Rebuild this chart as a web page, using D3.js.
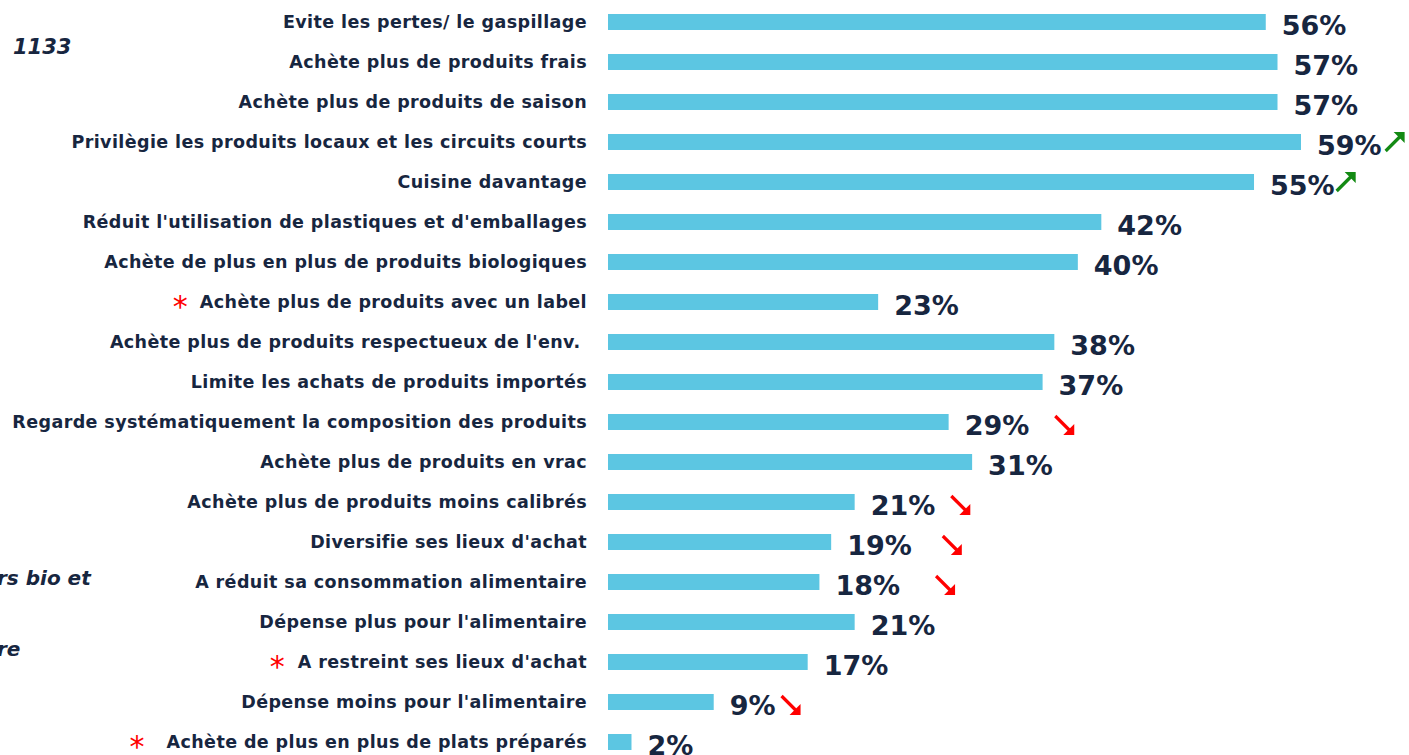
<!DOCTYPE html>
<html>
<head>
<meta charset="utf-8">
<script src="https://cdn.jsdelivr.net/npm/d3@7"></script>
<style>
  body { margin: 0; background: #fff; overflow: hidden; }
  text { font-family: "DejaVu Sans", sans-serif; }
</style>
</head>
<body>
<script>
// data
var labels = [
    "Evite les pertes/ le gaspillage",
    "Achète plus de produits frais",
    "Achète plus de produits de saison",
    "Privilègie les produits locaux et les circuits courts",
    "Cuisine davantage",
    "Réduit l'utilisation de plastiques et d'emballages",
    "Achète de plus en plus de produits biologiques",
    "Achète plus de produits avec un label",
    "Achète plus de produits respectueux de l'env.\u00a0",
    "Limite les achats de produits importés",
    "Regarde systématiquement la composition des produits",
    "Achète plus de produits en vrac",
    "Achète plus de produits moins calibrés",
    "Diversifie ses lieux d'achat",
    "A réduit sa consommation alimentaire",
    "Dépense plus pour l'alimentaire",
    "A restreint ses lieux d'achat",
    "Dépense moins pour l'alimentaire",
    "Achète de plus en plus de plats préparés"
];
var values = [56, 57, 57, 59, 55, 42, 40, 23, 38, 37, 29, 31, 21, 19, 18, 21, 17, 9, 2];
// 1 = hausse, -1 = baisse, 0 = rien
var trends = [0, 0, 0, 1, 1, 0, 0, 0, 0, 0, -1, 0, -1, -1, -1, 0, 0, -1, 0];
var starred = [0, 0, 0, 0, 0, 0, 0, 1, 0, 0, 0, 0, 0, 0, 0, 0, 1, 0, 1];

var width = 1409, height = 755;
var svg = d3.select("body").append("svg")
    .attr("width", width)
    .attr("height", height);

var x = d3.scaleLinear().domain([0, 59]).range([608, 1301]);
var y = d3.scaleBand().domain(d3.range(labels.length))
    .range([2, 762]).paddingInner(0.6).paddingOuter(0.3);

var navy = "#172640";

// fragments of the clipped left panel
var left = svg.append("g").attr("fill", navy)
    .style("font-style", "italic").style("font-weight", "bold");
left.append("text").attr("x", 13).attr("y", 54).style("font-size", "21px").text("1133");
left.append("text").attr("x", -3).attr("y", 585).style("font-size", "20px").text("rs bio et");
left.append("text").attr("x", -3).attr("y", 656).style("font-size", "20px").text("re");

// bars
svg.selectAll("rect.bar")
    .data(values)
    .enter()
    .append("rect")
    .attr("class", "bar")
    .attr("x", x(0))
    .attr("y", function(d, i){ return y(i); })
    .attr("width", function(d){ return x(d) - x(0); })
    .attr("height", y.bandwidth())
    .style("fill", "#5CC6E2");

// category labels
var cat = svg.selectAll("text.cat")
    .data(labels)
    .enter()
    .append("text")
    .attr("class", "cat")
    .attr("x", 587)
    .attr("y", function(d, i){ return y(i) + y.bandwidth() / 2 + 6; })
    .attr("text-anchor", "end")
    .style("font-size", "17.5px")
    .style("letter-spacing", "0.4px")
    .style("font-weight", "bold")
    .style("fill", navy)
    .text(function(d){ return d; });

// red stars in front of some labels
var starGap = [0, 0, 0, 0, 0, 0, 0, 12, 0, 0, 0, 0, 0, 0, 0, 0, 13, 0, 22];
cat.each(function(d, i){
    if (!starred[i]) return;
    var bb = this.getBBox();
    svg.append("text")
        .attr("x", bb.x - starGap[i])
        .attr("y", y(i) + y.bandwidth() / 2 + 15)
        .attr("text-anchor", "end")
        .style("font-size", "30px")
        .style("fill", "#FF0000")
        .text("*");
});

// value labels
var val = svg.selectAll("text.val")
    .data(values)
    .enter()
    .append("text")
    .attr("class", "val")
    .attr("x", function(d){ return x(d) + 16; })
    .attr("y", function(d, i){ return y(i) + y.bandwidth() / 2 + 13; })
    .style("font-size", "27px")
    .style("font-weight", "bold")
    .style("fill", navy)
    .text(function(d){ return d + "%"; });

// trend arrows (gap after the value label, as placed on the slide)
var arrowGap = [0, 0, 0, 4, 2, 0, 0, 0, 0, 0, 26, 0, 16, 31, 36, 0, 0, 6, 0];
val.each(function(d, i){
    if (!trends[i]) return;
    var bb = this.getBBox();
    var x0 = bb.x + bb.width + arrowGap[i];
    var cy = y(i) + y.bandwidth() / 2;
    var up = trends[i] > 0;
    var col = up ? "#138A13" : "#FF0000";
    var s = 19;
    var dir = up ? -1 : 1;
    var y0 = up ? cy + 9 : cy - 6;
    var y1 = y0 + dir * s;
    var g = svg.append("g");
    g.append("line")
        .attr("x1", x0).attr("y1", y0)
        .attr("x2", x0 + s - 4).attr("y2", y1 - dir * 4)
        .style("stroke", col).style("stroke-width", 3.2);
    g.append("path")
        .attr("d", "M" + (x0 + s) + "," + y1 +
            "L" + (x0 + s - 11) + "," + y1 +
            "L" + (x0 + s) + "," + (y1 - dir * 11) + "Z")
        .style("fill", col);
});
</script>
</body>
</html>
